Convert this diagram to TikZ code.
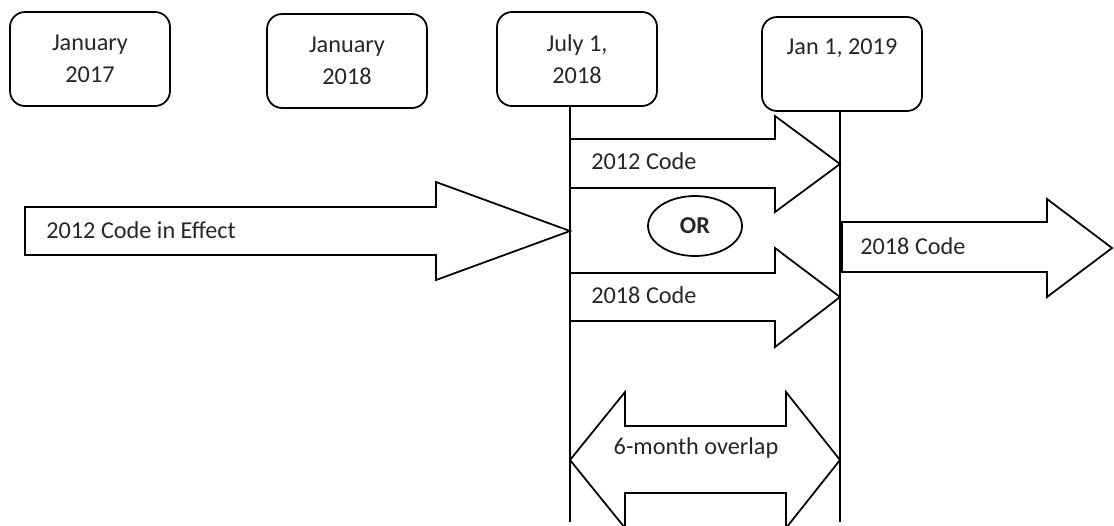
\documentclass[tikz,border=0pt]{standalone}
\usepackage{fontspec}
\setmainfont{Carlito}
\usetikzlibrary{shapes.geometric}

\tikzstyle{date_box} = [rectangle, rounded corners=0.3cm, draw=black, line width=1pt, text centered, align=center, minimum width=3.2cm, minimum height=1.88cm]
\tikzstyle{fat_arrow} = [draw=black, line width=1pt, line join=miter]
\tikzstyle{code_label} = [anchor=west, inner sep=0pt]
\tikzstyle{or_node} = [ellipse, draw=black, line width=1pt, minimum width=1.88cm, minimum height=1.2cm, font=\fontsize{13.8}{18}\selectfont\bfseries]
\tikzstyle{time_line} = [draw=black, line width=1pt]

\begin{document}
\begin{tikzpicture}[x=0.02cm, y=-0.02cm, font=\fontsize{13.8}{18}\selectfont, text=black!85]
    \clip (0,0) rectangle (1114,525);

    % dates
    \node (jan17) [date_box] at (90,59) {January\\2017};
    \node (jan18) [date_box] at (347,61) {January\\2018};
    \node (jul18) [date_box] at (577,59) {July 1,\\2018};
    \node (jan19) [date_box] at (842,64) {Jan 1, 2019\\[2pt]\mbox{}};

    % big arrows
    \draw [fat_arrow] (25,207) -- (436,207) -- (436,182) -- (570,231) -- (436,280) -- (436,255) -- (25,255) -- cycle;
    \draw [fat_arrow] (570,139) -- (775,139) -- (775,116) -- (840,164) -- (775,212) -- (775,188) -- (570,188) -- cycle;
    \draw [fat_arrow] (570,273) -- (775,273) -- (775,248) -- (840,297) -- (775,347) -- (775,321) -- (570,321) -- cycle;
    \draw [fat_arrow] (842,222) -- (1047,222) -- (1047,199) -- (1112,248) -- (1047,297) -- (1047,272) -- (842,272) -- cycle;
    \draw [fat_arrow] (570,460) -- (625,392) -- (625,426) -- (786,426) -- (786,392) -- (840,460) -- (786,528) -- (786,493) -- (625,493) -- (625,528) -- cycle;

    % time lines
    \coordinate (jul_end) at (570,522);
    \coordinate (jan_end) at (840,522);
    \draw [time_line] (jul18.south -| jul_end) -- (jul_end);
    \draw [time_line] (jan19.south -| jan_end) -- (jan_end);

    % labels
    \node (effect) [code_label] at (46,230) {2012 Code in Effect};
    \node (old_code) [code_label] at (591,161) {2012 Code};
    \node (new_code) [code_label] at (591,295) {2018 Code};
    \node (or) [or_node] at (695,226) {OR};
    \node (final_code) [code_label] at (860,246) {2018 Code};
    \node (overlap) at (696,448) {6-month overlap};
\end{tikzpicture}
\end{document}
